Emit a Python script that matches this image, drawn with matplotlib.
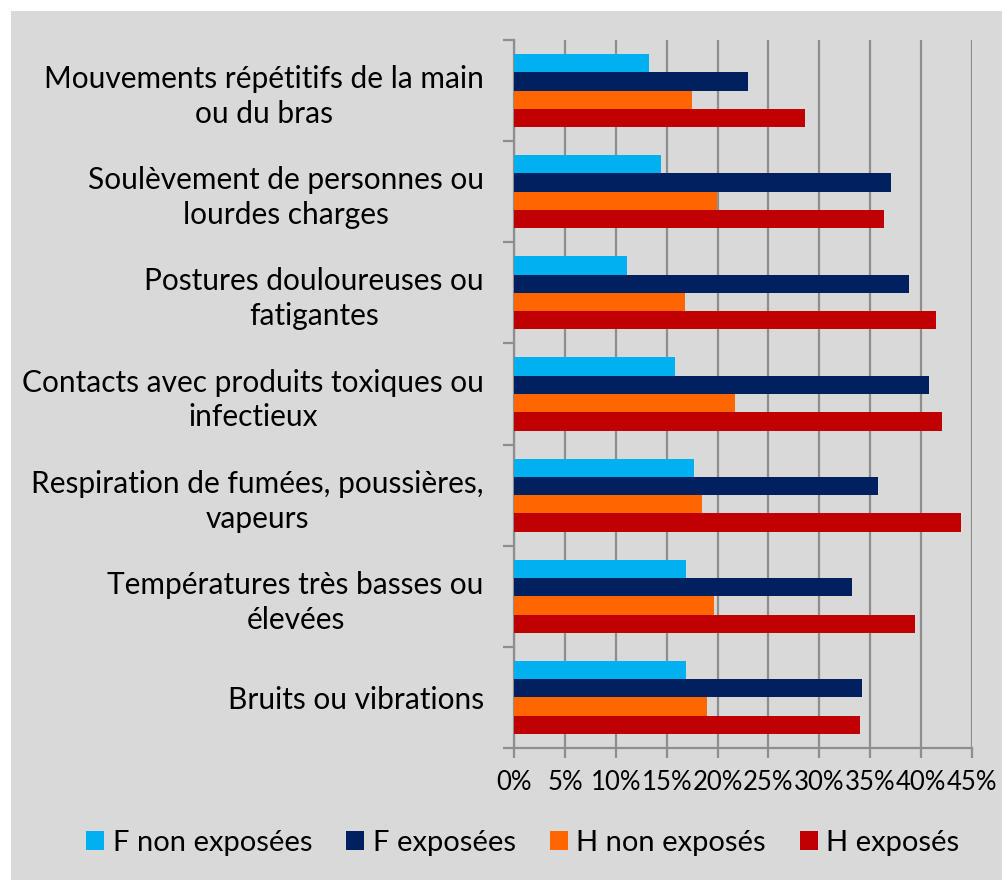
import numpy as np
import matplotlib.pyplot as plt
from matplotlib.patches import Rectangle

plt.rcParams['font.family'] = ['Lato', 'DejaVu Sans']

categories = [
    "Mouvements répétitifs de la main\nou du bras",
    "Soulèvement de personnes ou\nlourdes charges",
    "Postures douloureuses ou\nfatigantes",
    "Contacts avec produits toxiques ou\ninfectieux",
    "Respiration de fumées, poussières,\nvapeurs",
    "Températures très basses ou\nélevées",
    "Bruits ou vibrations",
]
series_names = ["F non exposées", "F exposées", "H non exposés", "H exposés"]
f_non_exposees = [13.3, 14.4, 11.1, 15.8, 17.7, 16.9, 16.9]
f_exposees = [23.0, 37.1, 38.8, 40.8, 35.8, 33.2, 34.2]
h_non_exposes = [17.5, 19.9, 16.8, 21.7, 18.5, 19.6, 19.0]
h_exposes = [28.6, 36.4, 41.5, 42.1, 43.9, 39.4, 34.0]
colors = ["#00B0F0", "#002060", "#FF6600", "#C00000"]
xticks = [0, 5, 10, 15, 20, 25, 30, 35, 40, 45]

W, H = 1003, 880
fig = plt.figure(figsize=(W / 100, H / 100), dpi=100)
fig.patch.set_facecolor("white")
# grey chart area
fig.patches.append(Rectangle((11 / W, 0), 1 - 11 / W, 1 - 11 / H,
                             transform=fig.transFigure, facecolor="#D9D9D9",
                             edgecolor="none", zorder=-5))

ax = fig.add_axes([514.3 / W, 1 - 748 / H, (971.7 - 514.3) / W, (748 - 40) / H])
ax.set_facecolor("none")

grid_c = "#8E8E8E"
n = len(categories)
y = np.arange(n)
h = 0.181
all_series = [f_non_exposees, f_exposees, h_non_exposes, h_exposes]
for j, (vals, c, name) in enumerate(zip(all_series, colors, series_names)):
    ax.barh(y + (j - 1.5) * h, vals, height=h, color=c, label=name, zorder=3)

ax.set_xlim(0, 45)
ax.set_ylim(n - 0.5, -0.5)
ax.set_xticks(xticks)
ax.set_xticklabels([f"{t}%" for t in xticks], fontsize=18.5)
ax.xaxis.grid(True, color=grid_c, linewidth=1.6, zorder=1)

# category boundaries as major ticks, labels at centres
ax.set_yticks(np.arange(-0.5, n, 1))
ax.set_yticklabels([])
ax.set_yticks(y, minor=True)
ax.set_yticklabels(categories, minor=True, fontsize=21.5,
                   multialignment="center", linespacing=1.3)
ax.tick_params(axis="y", which="minor", length=0, pad=22)
ax.tick_params(axis="y", which="major", length=8, width=1.6, color=grid_c)
ax.tick_params(axis="x", length=7, width=1.6, color=grid_c, pad=9)

for side in ["top", "right"]:
    ax.spines[side].set_visible(False)
ax.spines["left"].set_color(grid_c)
ax.spines["left"].set_linewidth(1.6)
ax.spines["bottom"].set_color(grid_c)
ax.spines["bottom"].set_linewidth(1.6)

fig.legend(loc="center", bbox_to_anchor=(523 / W, 1 - 843 / H), ncol=4,
           frameon=False, fontsize=21, handlelength=0.62, handleheight=0.62,
           handletextpad=0.3, columnspacing=1.15)

fig.savefig("out.png", dpi=100, facecolor=fig.get_facecolor())
